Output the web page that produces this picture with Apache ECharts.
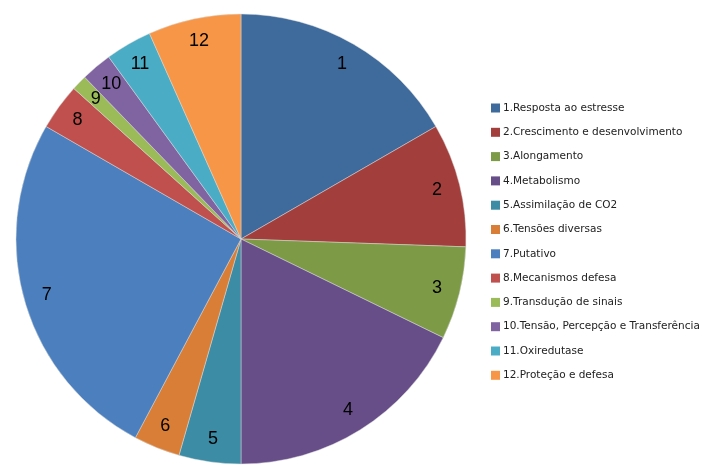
<!DOCTYPE html>
<html>
<head>
<meta charset="utf-8">
<script src="https://cdn.jsdelivr.net/npm/echarts@6/dist/echarts.min.js"></script>
<style>html,body{margin:0;padding:0;background:#fff}#c{width:717px;height:473px}</style>
</head>
<body>
<div id="c"></div>
<script>
const categories = ["1.Resposta ao estresse","2.Crescimento e desenvolvimento","3.Alongamento","4.Metabolismo","5.Assimilação de CO2","6.Tensões diversas","7.Putativo","8.Mecanismos defesa","9.Transdução de sinais","10.Tensão, Percepção e Transferência","11.Oxiredutase","12.Proteção e defesa"];
const sliceLabels = ["1","2","3","4","5","6","7","8","9","10","11","12"];
const values = [15, 8, 6, 16, 4, 3, 23, 3, 1, 2, 3, 6];
const colors = ["#3E6A9C","#A23F3C","#7D9A47","#674E89","#3B8CA4","#D97E36","#4B7FBD","#C0504D","#9BBB59","#8064A2","#4BACC6","#F79646"];

const data = categories.map((n, i) => ({ name: n, value: values[i], itemStyle: { color: colors[i] } }));
const labelData = categories.map((n, i) => ({ name: n, value: values[i] }));

const chart = echarts.init(document.getElementById('c'));
chart.setOption({
  animation: false,
  backgroundColor: '#fff',
  legend: {
    orient: 'vertical',
    left: 486,
    top: 97,
    icon: 'rect',
    itemWidth: 9,
    itemHeight: 9,
    itemGap: 12.3,
    itemStyle: { borderWidth: 0 },
    data: categories,
    textStyle: { fontFamily: 'DejaVu Sans', fontSize: 10.5, color: '#222', lineHeight: 12, padding: [0, 0, 0, -2] }
  },
  series: [
    {
      type: 'pie',
      center: [241, 239],
      radius: [0, 225],
      startAngle: 90,
      clockwise: true,
      avoidLabelOverlap: false,
      label: { show: false },
      labelLine: { show: false },
      itemStyle: { borderColor: 'rgba(220,220,220,0.8)', borderWidth: 0.6 },
      emphasis: { disabled: true },
      data: data
    },
    {
      type: 'pie',
      center: [241, 239],
      radius: [173, 225],
      startAngle: 90,
      clockwise: true,
      silent: true,
      avoidLabelOverlap: false,
      itemStyle: { color: 'rgba(0,0,0,0)', borderWidth: 0 },
      label: {
        show: true,
        position: 'inside',
        formatter: p => sliceLabels[p.dataIndex],
        fontFamily: 'Liberation Sans',
        fontSize: 18,
        color: '#000'
      },
      labelLine: { show: false },
      emphasis: { disabled: true },
      data: labelData
    }
  ]
});
</script>
</body>
</html>
